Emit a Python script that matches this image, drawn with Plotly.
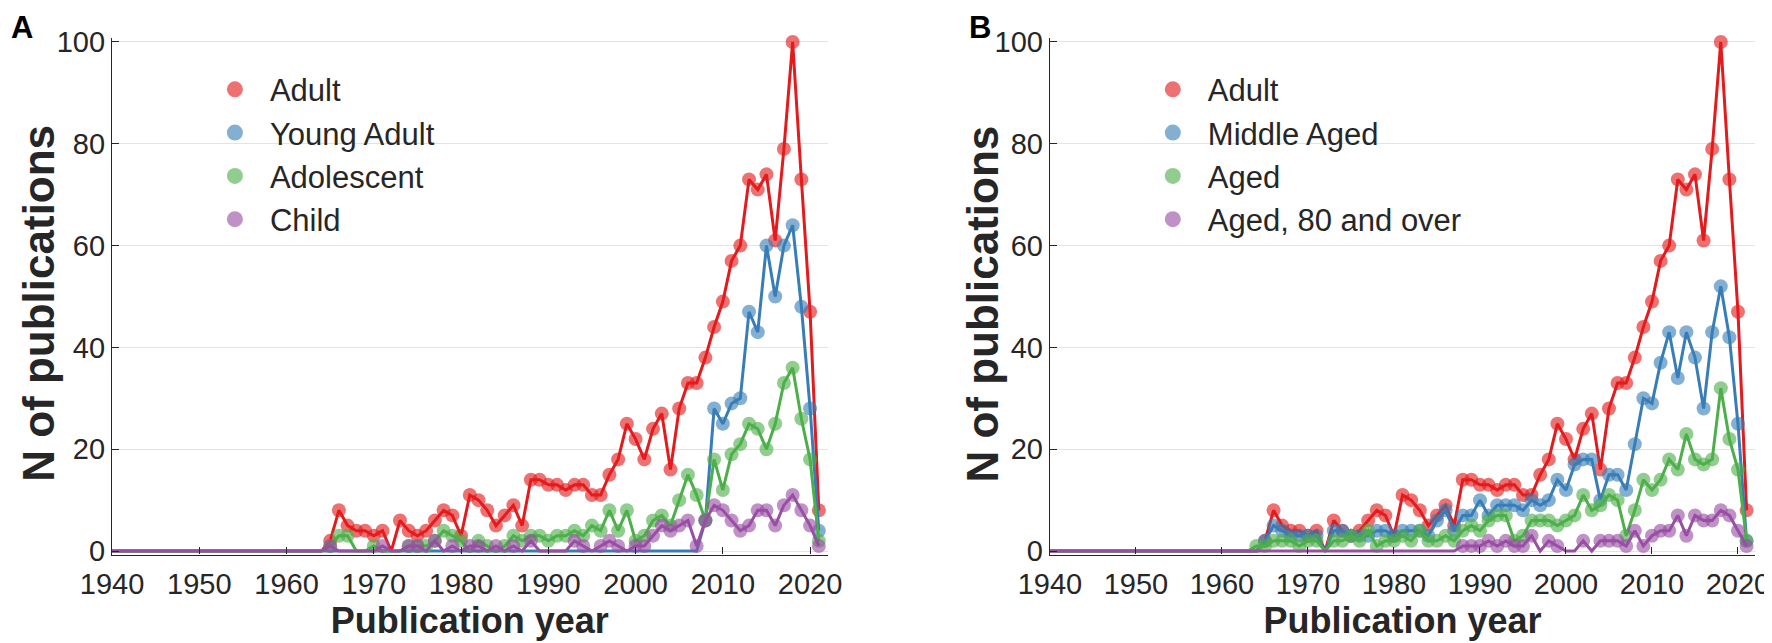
import plotly.graph_objects as go

years = list(range(1940, 2022))

pre1964 = [0, 0, 0, 0, 0, 0, 0, 0, 0, 0, 0, 0, 0, 0, 0, 0, 0, 0, 0, 0, 0, 0, 0, 0]

# values 1964..2021
adult_tail = [0, 2, 8, 5, 4, 4, 3, 4, 0, 6,
              4, 3, 4, 6, 8, 7, 3, 11, 10, 8,
              5, 7, 9, 5, 14, 14, 13, 13, 12, 13,
              13, 11, 11, 15, 18, 25, 22, 18, 24, 27,
              16, 28, 33, 33, 38, 44, 49, 57, 60, 73,
              71, 74, 61, 79, 100, 73, 47, 8]
young_adult_tail = [0, 0, 0, 0, 0, 0, 0, 0, 0, 0,
                    0, 0, 0, 0, 0, 0, 0, 0, 0, 0,
                    0, 0, 0, 0, 0, 0, 0, 0, 0, 0,
                    0, 0, 0, 0, 0, 0, 0, 0, 0, 0,
                    0, 0, 0, 0, 6, 28, 25, 29, 30, 47,
                    43, 60, 50, 60, 64, 48, 28, 4]
adolescent_tail = [0, 1, 3, 3, 0, 0, 1, 0, 0, 0,
                   1, 1, 1, 2, 4, 3, 2, 0, 2, 1,
                   0, 1, 3, 2, 3, 3, 2, 3, 3, 4,
                   3, 5, 4, 8, 4, 8, 2, 3, 6, 7,
                   5, 10, 15, 11, 6, 18, 12, 19, 21, 25,
                   24, 20, 25, 33, 36, 26, 18, 2]
child_tail = [0, 1, 0, 0, 0, 0, 0, 1, 0, 0,
              1, 1, 0, 2, 0, 1, 0, 1, 1, 0,
              1, 0, 1, 0, 2, 0, 0, 0, 0, 2,
              1, 0, 1, 2, 1, 0, 1, 1, 3, 5,
              4, 5, 6, 1, 6, 9, 8, 6, 4, 5,
              8, 8, 5, 9, 11, 8, 5, 1]
middle_aged_tail = [0, 2, 5, 4, 3, 3, 3, 3, 0, 4,
                    4, 3, 3, 3, 4, 4, 3, 4, 4, 4,
                    3, 6, 8, 4, 7, 7, 10, 7, 9, 9,
                    9, 8, 10, 9, 10, 14, 12, 17, 18, 18,
                    10, 15, 15, 12, 21, 30, 29, 37, 43, 34,
                    43, 38, 28, 43, 52, 42, 25, 2]
aged_tail = [1, 1, 2, 2, 2, 1, 2, 2, 0, 2,
             2, 3, 2, 4, 1, 2, 2, 3, 2, 4,
             2, 2, 3, 2, 4, 5, 4, 6, 7, 7,
             2, 3, 6, 6, 6, 5, 6, 7, 11, 8,
             9, 11, 10, 3, 8, 14, 12, 14, 18, 16,
             23, 18, 17, 18, 32, 22, 16, 2]
aged80_tail = [0, 0, 0, 0, 0, 0, 0, 0, 0, 0,
               0, 0, 0, 0, 0, 0, 0, 0, 0, 0,
               0, 0, 0, 0, 1, 1, 1, 2, 1, 2,
               1, 1, 3, 0, 2, 1, 0, 0, 2, 0,
               2, 2, 2, 1, 4, 1, 3, 4, 4, 7,
               3, 7, 6, 6, 8, 7, 4, 1]

adult = pre1964 + adult_tail
young_adult = pre1964 + young_adult_tail
adolescent = pre1964 + adolescent_tail
child = pre1964 + child_tail
middle_aged = pre1964 + middle_aged_tail
aged = pre1964 + aged_tail
aged80 = pre1964 + aged80_tail

names_a = ["Adult", "Young Adult", "Adolescent", "Child"]
names_b = ["Adult", "Middle Aged", "Aged", "Aged, 80 and over"]
series_a = [adult, young_adult, adolescent, child]
series_b = [adult, middle_aged, aged, aged80]
colors = ["#e41a1c", "#377eb8", "#4daf4a", "#984ea3"]

FONT = "Liberation Sans, Arial, sans-serif"
INK = "#262626"

fig = go.Figure()

def add_panel(names, series, xa, ya, legend):
    for nm, vals, col in zip(names, series, colors):
        xs = [x for x, v in zip(years, vals) if v > 0]
        ys = [v for v in vals if v > 0]
        fig.add_trace(go.Scatter(
            x=xs, y=ys, mode="markers", name=nm,
            marker=dict(size=14, color=col, opacity=0.62, line=dict(width=0)),
            xaxis=xa, yaxis=ya, legend=legend, legendgroup=legend + nm,
            cliponaxis=False, showlegend=False))
        fig.add_trace(go.Scatter(
            x=years, y=vals, mode="lines", name=nm,
            line=dict(color=col, width=3),
            xaxis=xa, yaxis=ya, legend=legend, legendgroup=legend + nm,
            showlegend=False))
        # legend entry (circle only)
        fig.add_trace(go.Scatter(
            x=[None], y=[None], mode="markers", name=nm,
            marker=dict(size=22, color=col, opacity=0.62, line=dict(width=0)),
            xaxis=xa, yaxis=ya, legend=legend, legendgroup=legend + nm,
            showlegend=True))

add_panel(names_a, series_a, "x", "y", "legend")
add_panel(names_b, series_b, "x2", "y2", "legend2")

xcommon = dict(range=[1940, 2022], tickvals=list(range(1940, 2021, 10)),
               ticks="inside", ticklen=7, tickwidth=1.3, tickcolor=INK,
               showline=True, linecolor=INK, linewidth=1.3,
               showgrid=False, zeroline=False, automargin=False,
               tickfont=dict(size=29, color=INK, family=FONT),
               ticklabelstandoff=3,
               title=dict(text="<b>Publication year</b>", font=dict(size=36, color=INK, family=FONT), standoff=6))
ycommon = dict(range=[-0.7, 100.7], tickvals=[0, 20, 40, 60, 80, 100],
               ticks="inside", ticklen=7, tickwidth=1.3, tickcolor=INK,
               showline=True, linecolor=INK, linewidth=1.3,
               showgrid=True, gridcolor="#e3e3e3", gridwidth=1.3, zeroline=False,
               automargin=False,
               tickfont=dict(size=29, color=INK, family=FONT),
               ticklabelstandoff=0)

legcommon = dict(font=dict(size=31, color=INK, family=FONT), bgcolor="rgba(0,0,0,0)",
                 itemwidth=60, tracegroupgap=0, xanchor="left", yanchor="top",
                 itemclick=False, itemdoubleclick=False)

ytitle_font = dict(size=44, color=INK, family=FONT)
panel_font = dict(size=31, color="black", family=FONT)

fig.update_layout(
    template="none",
    width=1772, height=643,
    margin=dict(l=0, r=0, t=0, b=0),
    paper_bgcolor="white", plot_bgcolor="white",
    font=dict(family=FONT, color=INK),
    showlegend=True,
    xaxis=dict(domain=[0.0587, 0.4625], anchor="y", **xcommon),
    yaxis=dict(domain=[0.1499, 0.9527], anchor="x", **ycommon),
    xaxis2=dict(domain=[0.5880, 0.9860], anchor="y2", **xcommon),
    yaxis2=dict(domain=[0.1499, 0.9527], anchor="x2", **ycommon),
    legend=dict(x=0.1083, y=0.9150, **legcommon),
    legend2=dict(x=0.6376, y=0.9150, **legcommon),
    annotations=[
        dict(text="<b>N of publications</b>", x=0.0175, y=0.540, xref="paper", yref="paper",
             xanchor="center", yanchor="middle", textangle=-90, showarrow=False,
             font=ytitle_font),
        dict(text="<b>N of publications</b>", x=0.5501, y=0.540, xref="paper", yref="paper",
             xanchor="center", yanchor="middle", textangle=-90, showarrow=False,
             font=ytitle_font),
        dict(text="<b>A</b>", x=0.008, y=0.970, xref="paper", yref="paper",
             xanchor="center", yanchor="middle", showarrow=False, font=panel_font),
        dict(text="<b>B</b>", x=0.5485, y=0.970, xref="paper", yref="paper",
             xanchor="center", yanchor="middle", showarrow=False, font=panel_font),
    ],
)

fig.write_html("out.html")
